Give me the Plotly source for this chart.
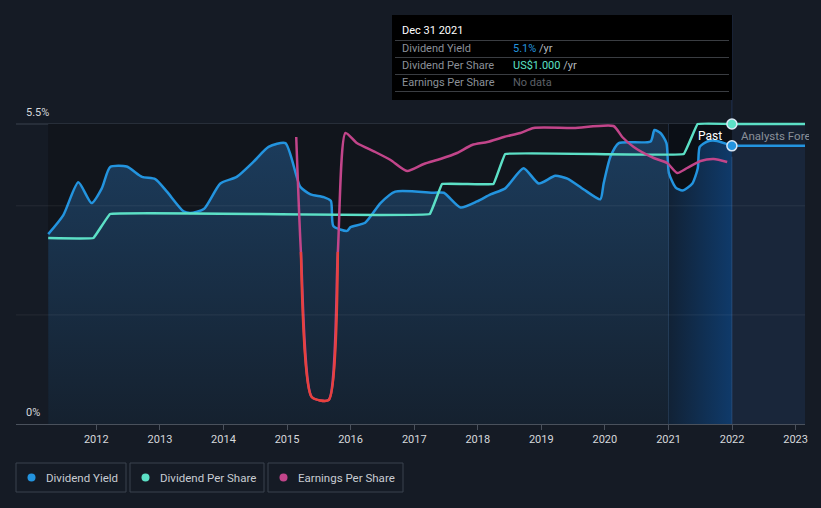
import plotly.graph_objects as go
import pandas as pd

# ---------------- data ----------------
YIELD_DATES = [
    "2011-03-31", "2011-06-26", "2011-09-20", "2011-12-05", "2012-02-02", "2012-03-21",
    "2012-06-24", "2012-09-20", "2012-12-05", "2013-02-10", "2013-05-16", "2013-06-25",
    "2013-09-10", "2013-12-14", "2014-03-18", "2014-06-23", "2014-09-17", "2014-12-23",
    "2015-03-18", "2015-05-16", "2015-07-31", "2015-09-10", "2015-09-24", "2015-12-12",
    "2016-01-01", "2016-03-25", "2016-06-21", "2016-09-14", "2017-04-24", "2017-06-20",
    "2017-09-24", "2017-12-28", "2018-03-15", "2018-06-08", "2018-09-21", "2018-12-17",
    "2019-03-22", "2019-05-31", "2019-09-02", "2019-12-06", "2019-12-25", "2020-02-02",
    "2020-03-21", "2020-09-20", "2020-10-12", "2020-11-17", "2020-12-20", "2021-01-03",
    "2021-02-10", "2021-03-22", "2021-05-18", "2021-06-18", "2021-06-29", "2021-08-12",
    "2021-10-07", "2021-12-31",
]
YIELD_VALUES = [
    3.48, 3.83, 4.43, 4.05, 4.32, 4.71,
    4.72, 4.53, 4.49, 4.26, 3.90, 3.87,
    3.94, 4.41, 4.53, 4.81, 5.08, 5.15,
    4.35, 4.21, 4.16, 4.09, 3.63, 3.54,
    3.61, 3.69, 4.05, 4.26, 4.24, 4.24,
    3.97, 4.08, 4.21, 4.32, 4.69, 4.41,
    4.55, 4.50, 4.30, 4.12, 4.41, 4.90,
    5.15, 5.18, 5.39, 5.33, 5.15, 4.60,
    4.34, 4.28, 4.41, 4.69, 5.08, 5.18,
    5.19, 5.10,
]

DPS_DATES = [
    "2011-03-31", "2011-12-16", "2012-03-21", "2017-03-31", "2017-06-10",
    "2018-04-01", "2018-06-08", "2021-03-29", "2021-06-17", "2021-12-31",
]
DPS_VALUES = [0.62, 0.62, 0.70, 0.70, 0.80, 0.80, 0.90, 0.90, 1.00, 1.00]

EPS_DATES = [
    "2015-02-23", "2015-03-22", "2015-05-23", "2015-08-28", "2015-10-20", "2015-12-03",
    "2016-02-06", "2016-05-22", "2016-08-18", "2016-11-21", "2017-02-25", "2017-05-31",
    "2017-09-04", "2017-11-29", "2018-02-25", "2018-05-31", "2018-09-03", "2018-11-18",
    "2019-07-06", "2020-02-20", "2020-04-10", "2020-06-15", "2020-10-08", "2020-12-24",
    "2021-02-20", "2021-04-18", "2021-07-04", "2021-09-18", "2021-12-04",
]
EPS_VALUES = [
    1.15, 0.00, -1.45, -1.48, 0.00, 1.19,
    1.09, 1.00, 0.92, 0.81, 0.88, 0.93,
    0.99, 1.07, 1.10, 1.15, 1.19, 1.24,
    1.24, 1.26, 1.15, 1.05, 0.94, 0.89,
    0.79, 0.84, 0.91, 0.93, 0.90,
]

FORECAST_DATES = ["2021-12-31", "2023-03-01"]
FORECAST_YIELD = [5.1, 5.1]
FORECAST_DPS = [1.0, 1.0]

X_TICKS = ["2012", "2013", "2014", "2015", "2016", "2017",
           "2018", "2019", "2020", "2021", "2022", "2023"]

# ---------------- styling ----------------
BG = "#151b25"
BLUE = "#2394df"
TEAL = "#5ce0c6"
MAGENTA = "#c2458a"
RED = "#e8413c"
FONT = "Roboto"

PLOT_L, PLOT_R, PLOT_T, PLOT_B = 16, 805, 100, 424


def px(x):
    return (x - PLOT_L) / (PLOT_R - PLOT_L)


def py(y):
    return (PLOT_B - y) / (PLOT_B - PLOT_T)


yield_df = pd.DataFrame({"date": pd.to_datetime(YIELD_DATES), "v": YIELD_VALUES})
band_df = yield_df[yield_df["date"] >= "2021-01-01"]
eps_df = pd.DataFrame({"date": pd.to_datetime(EPS_DATES), "v": EPS_VALUES})
eps_neg = eps_df[eps_df["v"] <= 0]

spl = dict(shape="spline", smoothing=0.6)

fig = go.Figure()

# fills (main yield axis)
fig.add_trace(go.Scatter(
    x=yield_df["date"], y=yield_df["v"], mode="lines",
    line=dict(width=0, **spl), fill="tozeroy",
    fillgradient=dict(type="vertical", start=0, stop=5.5,
                      colorscale=[[0, "#15212f"], [1, "#1c3d5e"]]),
    hoverinfo="skip", showlegend=False))
fig.add_trace(go.Scatter(
    x=band_df["date"], y=band_df["v"], mode="lines",
    line=dict(width=0, **spl), fill="tozeroy",
    fillgradient=dict(type="horizontal",
                      colorscale=[[0, "#112236"], [1, "#0f3a6a"]]),
    hoverinfo="skip", showlegend=False))
fig.add_trace(go.Scatter(
    x=FORECAST_DATES, y=FORECAST_YIELD, mode="lines",
    line=dict(width=0), fill="tozeroy", fillcolor="#19263a",
    hoverinfo="skip", showlegend=False))

# dividend yield lines
fig.add_trace(go.Scatter(
    x=yield_df["date"], y=yield_df["v"], mode="lines",
    line=dict(color=BLUE, width=2.5, **spl), name="Dividend Yield", showlegend=False))
fig.add_trace(go.Scatter(
    x=FORECAST_DATES, y=FORECAST_YIELD, mode="lines",
    line=dict(color=BLUE, width=2.5), showlegend=False))
fig.add_trace(go.Scatter(
    x=FORECAST_DATES[:1], y=FORECAST_YIELD[:1], mode="markers",
    marker=dict(color=BLUE, size=10, line=dict(color="#dbe8f5", width=1.5)),
    showlegend=False, cliponaxis=False))

# dividend per share (y2)
fig.add_trace(go.Scatter(
    x=DPS_DATES, y=DPS_VALUES, mode="lines", yaxis="y2",
    line=dict(color=TEAL, width=2.5, shape="spline", smoothing=0.15),
    name="Dividend Per Share", showlegend=False))
fig.add_trace(go.Scatter(
    x=FORECAST_DATES, y=FORECAST_DPS, mode="lines", yaxis="y2",
    line=dict(color=TEAL, width=2.5), showlegend=False))
fig.add_trace(go.Scatter(
    x=FORECAST_DATES[:1], y=FORECAST_DPS[:1], mode="markers", yaxis="y2",
    marker=dict(color=TEAL, size=10, line=dict(color="#dbe8f5", width=1.5)),
    showlegend=False, cliponaxis=False))

# earnings per share (y3)
fig.add_trace(go.Scatter(
    x=eps_df["date"], y=eps_df["v"], mode="lines", yaxis="y3",
    line=dict(color=MAGENTA, width=2.5, **spl), name="Earnings Per Share",
    showlegend=False))
fig.add_trace(go.Scatter(
    x=eps_neg["date"], y=eps_neg["v"], mode="lines", yaxis="y3",
    line=dict(color=RED, width=2.5, **spl), showlegend=False))

# ---------------- shapes ----------------
shapes = [
    dict(type="rect", xref="x", yref="y", x0=YIELD_DATES[0], x1="2021-01-01",
         y0=0, y1=5.5, fillcolor="#11151c", line=dict(width=0), layer="below"),
    dict(type="rect", xref="x", yref="y", x0="2021-01-01", x1="2021-12-31",
         y0=0, y1=5.5, fillcolor="#0b0f16", line=dict(width=0), layer="below"),
    dict(type="rect", xref="x", yref="y", x0="2021-12-31", x1="2023-03-01",
         y0=0, y1=5.5, fillcolor="#172131", line=dict(width=0), layer="below"),
    dict(type="line", xref="paper", yref="y", x0=0, x1=1, y0=5.5, y1=5.5,
         line=dict(color="#3b424e", width=1), layer="below"),
    dict(type="line", xref="paper", yref="y", x0=0, x1=1, y0=2, y1=2,
         line=dict(color="rgba(255,255,255,0.07)", width=1), layer="above"),
    dict(type="line", xref="paper", yref="y", x0=0, x1=1, y0=4, y1=4,
         line=dict(color="rgba(255,255,255,0.07)", width=1), layer="above"),
    dict(type="line", xref="x", yref="y", x0="2021-01-01", x1="2021-01-01", y0=0, y1=5.5,
         line=dict(color="rgba(80,120,170,0.25)", width=1), layer="above"),
    dict(type="line", xref="x", yref="y", x0="2021-12-31", x1="2021-12-31", y0=0, y1=4.9,
         line=dict(color="rgba(80,130,190,0.35)", width=1), layer="above"),
    dict(type="line", xref="x", yref="paper", x0="2021-12-31", x1="2021-12-31",
         y0=py(118), y1=py(15),
         line=dict(color="#1f3050", width=1), layer="above"),
    # tooltip box
    dict(type="rect", xref="paper", yref="paper", x0=px(392), x1=px(732),
         y0=py(100), y1=py(15), fillcolor="#000000", line=dict(width=0), layer="above"),
]
for sep_y in [40.5, 57.5, 74.5, 91.5]:
    shapes.append(dict(type="line", xref="paper", yref="paper", x0=px(395), x1=px(729),
                       y0=py(sep_y), y1=py(sep_y),
                       line=dict(color="#3a3d42", width=1), layer="above"))

# custom legend boxes
LEGEND = [("Dividend Yield", BLUE, 16, 126),
          ("Dividend Per Share", TEAL, 130, 264),
          ("Earnings Per Share", MAGENTA, 268, 403)]
annotations = []
for label, col, x0, x1 in LEGEND:
    shapes.append(dict(type="rect", xref="paper", yref="paper", x0=px(x0), x1=px(x1),
                       y0=py(492), y1=py(463), line=dict(color="#3b424e", width=1),
                       fillcolor="rgba(0,0,0,0)", layer="above"))
    shapes.append(dict(type="circle", xref="paper", yref="paper",
                       xsizemode="pixel", ysizemode="pixel",
                       xanchor=px(x0 + 15.5), yanchor=py(477.5),
                       x0=-4, x1=4, y0=-4, y1=4,
                       fillcolor=col, line=dict(width=0), layer="above"))
    annotations.append(dict(xref="paper", yref="paper", x=px(x0 + 28), y=py(477.5),
                            text=label, showarrow=False, xanchor="left", yanchor="middle",
                            font=dict(family=FONT, size=11.5, color="#c8ccd2")))

# y labels
annotations += [
    dict(xref="paper", yref="paper", x=px(24), y=py(112), text="5.5%", showarrow=False,
         xanchor="left", yanchor="middle", font=dict(family=FONT, size=11, color="#d5d8dc")),
    dict(xref="paper", yref="paper", x=px(24), y=py(412), text="0%", showarrow=False,
         xanchor="left", yanchor="middle", font=dict(family=FONT, size=11, color="#d5d8dc")),
]

# past / forecast labels (forecast label is cut at the plot edge, as in the reference)
annotations += [
    dict(xref="paper", yref="paper", x=px(724), y=py(136), text="Past", showarrow=False,
         xanchor="right", yanchor="middle", font=dict(family=FONT, size=12, color="#ffffff")),
    dict(xref="paper", yref="paper", x=px(739), y=py(136), text="Analysts Forecast",
         showarrow=False, xanchor="left", yanchor="middle", width=68, align="left",
         font=dict(family=FONT, size=11.5, color="#8a9099")),
]

# tooltip texts
TIP_ROWS = [
    ("Dividend Yield", "<span style='color:%s'>5.1%%</span> /yr" % BLUE, 48.5),
    ("Dividend Per Share", "<span style='color:%s'>US$1.000</span> /yr" % TEAL, 65.5),
    ("Earnings Per Share", "<span style='color:#5d6168'>No data</span>", 82.5),
]
annotations.append(dict(xref="paper", yref="paper", x=px(400), y=py(31), text="Dec 31 2021",
                        showarrow=False, xanchor="left", yanchor="middle",
                        font=dict(family=FONT, size=11, color="#ffffff")))
for lab, val, yy in TIP_ROWS:
    annotations.append(dict(xref="paper", yref="paper", x=px(400), y=py(yy), text=lab,
                            showarrow=False, xanchor="left", yanchor="middle",
                            font=dict(family=FONT, size=11, color="#8b9098")))
    annotations.append(dict(xref="paper", yref="paper", x=px(511), y=py(yy), text=val,
                            showarrow=False, xanchor="left", yanchor="middle",
                            font=dict(family=FONT, size=11, color="#b4b8be")))

fig.update_layout(
    width=821, height=508,
    margin=dict(l=PLOT_L, r=821 - PLOT_R, t=PLOT_T, b=508 - PLOT_B),
    paper_bgcolor=BG, plot_bgcolor=BG,
    showlegend=False,
    font=dict(family=FONT),
    xaxis=dict(type="date", range=["2010-09-27", "2023-02-24"],
               tickvals=[t + "-01-01" for t in X_TICKS], ticktext=X_TICKS,
               ticks="outside", ticklen=5, tickcolor="#4a515c",
               showline=True, linecolor="#4a515c", linewidth=1,
               showgrid=False, zeroline=False,
               tickfont=dict(family=FONT, size=11, color="#d5d8dc")),
    yaxis=dict(range=[0, 5.94], visible=False, showgrid=False, zeroline=False),
    yaxis2=dict(range=[0, 1.08], overlaying="y", visible=False, showgrid=False, zeroline=False),
    yaxis3=dict(range=[-1.72, 1.52], overlaying="y", visible=False, showgrid=False, zeroline=False),
    shapes=shapes,
    annotations=annotations,
)

fig.write_html("out.html")
